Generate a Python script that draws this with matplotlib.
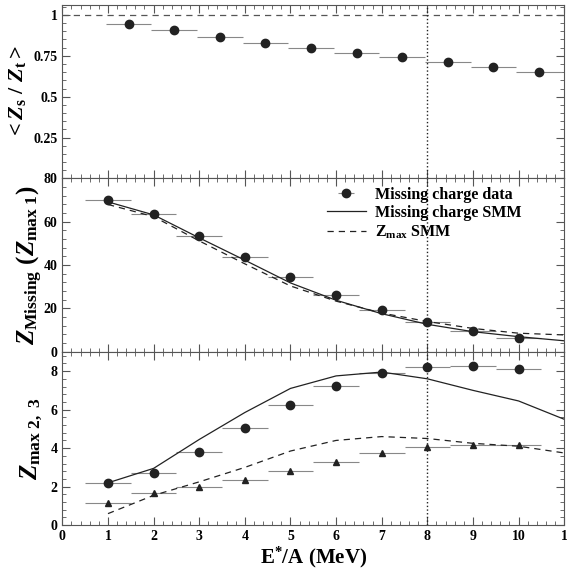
import numpy
import matplotlib
matplotlib.use("Agg")
import matplotlib.pyplot as plt
from matplotlib.ticker import MultipleLocator

# --- Donnees --------------------------------------------------------------
# panneau du haut : <Zs/Zt>
x_ratio = [1.45, 2.45, 3.45, 4.45, 5.45, 6.45, 7.45, 8.45, 9.45, 10.45]
y_ratio = [0.946, 0.905, 0.867, 0.831, 0.797, 0.766, 0.741, 0.711, 0.684, 0.652]

# panneau du milieu : charge manquante
e_data = [1, 2, 3, 4, 5, 6, 7, 8, 9, 10]
z_missing = [70.2, 63.7, 53.6, 43.8, 34.5, 26.0, 19.1, 13.6, 9.4, 6.2]

e_smm = [1, 2, 3, 4, 5, 6, 7, 8, 9, 10, 11]
z_missing_smm = [69.2, 63.2, 52.6, 42.3, 31.8, 23.8, 17.6, 12.7, 9.3, 7.0, 5.1]
z_max1_smm = [68.0, 62.4, 51.2, 40.6, 30.4, 23.4, 17.9, 14.0, 10.8, 8.6, 7.8]

# panneau du bas : Zmax2 et Zmax3
z_max2 = [2.2, 2.7, 3.8, 5.05, 6.25, 7.25, 7.9, 8.2, 8.25, 8.1]
z_max3 = [1.15, 1.65, 2.0, 2.35, 2.8, 3.3, 3.75, 4.05, 4.15, 4.15]
z_max2_smm = [2.2, 2.95, 4.45, 5.85, 7.1, 7.75, 7.95, 7.6, 7.0, 6.45, 5.5]
z_max3_smm = [0.6, 1.55, 2.25, 3.0, 3.85, 4.4, 4.6, 4.5, 4.25, 4.1, 3.75]

demi_largeur = 0.5
e_coupure = 8

# --- Style -----------------------------------------------------------------
plt.rcParams["font.family"] = ["Liberation Serif", "DejaVu Serif"]
plt.rcParams["font.weight"] = "bold"
plt.rcParams["mathtext.fontset"] = "custom"
plt.rcParams["mathtext.rm"] = "Liberation Serif:bold"
plt.rcParams["mathtext.it"] = "Liberation Serif:bold:italic"
plt.rcParams["mathtext.bf"] = "Liberation Serif:bold"

gris = "#555555"
noir = "#222222"

fig = plt.figure(figsize=(5.67, 5.69), dpi=100)
gs = fig.add_gridspec(3, 1, left=0.110, right=0.995, bottom=0.077, top=0.991,
                      hspace=0.0)
ax1 = fig.add_subplot(gs[0])
ax2 = fig.add_subplot(gs[1], sharex=ax1)
ax3 = fig.add_subplot(gs[2], sharex=ax1)

# --- haut ---
ax1.errorbar(x_ratio, y_ratio, xerr=demi_largeur, fmt="o", color=noir,
             ecolor="#888888", elinewidth=0.8, markersize=6, capsize=0)
ax1.axhline(1.0, color=gris, ls=(0, (5, 4)), lw=0.9)
ax1.set_ylim(0, 1.06)
ax1.set_yticks([0.25, 0.5, 0.75, 1.0])
ax1.set_yticklabels(["0.25", "0.5", "0.75", "1"])
ax1.yaxis.set_minor_locator(MultipleLocator(0.05))
ax1.set_ylabel(r"$<Z_\mathrm{s}\ /\ Z_\mathrm{t}>$", fontsize=16)

# --- milieu ---
h_data = ax2.errorbar(e_data, z_missing, xerr=demi_largeur, fmt="o", color=noir,
                      ecolor="#888888", elinewidth=0.8, markersize=6, capsize=0)
h_smm, = ax2.plot(e_smm, z_missing_smm, color=noir, lw=0.9)
h_max, = ax2.plot(e_smm, z_max1_smm, color=noir, lw=0.9, ls=(0, (5, 4)))
ax2.set_ylim(0, 80)
ax2.set_yticks([0, 20, 40, 60, 80])
ax2.yaxis.set_minor_locator(MultipleLocator(4))
ax2.set_ylabel(r"$Z_\mathrm{Missing}\ (Z_\mathrm{max\ 1})$", fontsize=18)
ax2.legend([h_data, h_smm, h_max],
           ["Missing charge data", "Missing charge SMM", r"$\mathrm{Z_{max}}$ SMM"],
           loc="upper left", frameon=False, fontsize=11.5, handlelength=2.4,
           handletextpad=0.6, labelspacing=0.15, borderaxespad=0,
           bbox_to_anchor=(0.515, 0.99))

# --- bas ---
ax3.errorbar(e_data, z_max2, xerr=demi_largeur, fmt="o", color=noir,
             ecolor="#888888", elinewidth=0.8, markersize=6, capsize=0)
ax3.errorbar(e_data, z_max3, xerr=demi_largeur, fmt="^", color=noir,
             ecolor="#888888", elinewidth=0.8, markersize=5, capsize=0)
ax3.plot(e_smm, z_max2_smm, color=noir, lw=0.9)
ax3.plot(e_smm, z_max3_smm, color=noir, lw=0.9, ls=(0, (5, 4)))
ax3.set_ylim(0, 9)
ax3.set_yticks([0, 2, 4, 6, 8])
ax3.yaxis.set_minor_locator(MultipleLocator(0.4))
ax3.set_ylabel(r"$Z_\mathrm{max\ 2,\ 3}$", fontsize=18)
ax3.set_xlabel(r"$\mathrm{E}^{*}\mathrm{/A\ (MeV)}$", fontsize=15, labelpad=1)

ax3.set_xlim(0, 11)
ax3.set_xticks(range(0, 12))
ax3.set_xticklabels([str(i) for i in range(0, 11)] + ["1"])
ax3.xaxis.set_minor_locator(MultipleLocator(0.2))

for ax in (ax1, ax2, ax3):
    ax.axvline(e_coupure, color=noir, ls=":", lw=1.0)
    ax.tick_params(which="both", direction="in", top=True, right=True,
                   color=gris, labelsize=10)
    ax.tick_params(which="major", length=6)
    ax.tick_params(which="minor", length=3)
    for s in ax.spines.values():
        s.set_color(gris)
        s.set_linewidth(0.8)

ax1.yaxis.set_label_coords(-0.068, 0.5)
ax2.yaxis.set_label_coords(-0.035, 0.5)
ax3.yaxis.set_label_coords(-0.035, 0.5)

plt.setp(ax1.get_xticklabels(), visible=False)
plt.setp(ax2.get_xticklabels(), visible=False)

fig.savefig("out.png", dpi=100)
